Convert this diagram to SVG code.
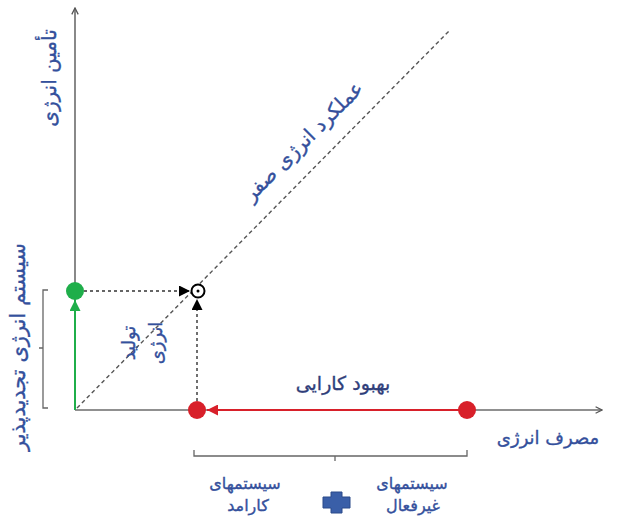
<svg xmlns="http://www.w3.org/2000/svg" width="628" height="524" viewBox="0 0 628 524">
<defs>
<style>
.t{font-family:"DejaVu Sans",sans-serif;fill:#34509c;stroke:#34509c;stroke-width:0.35;text-anchor:middle}
.axis{stroke:#6b6b6b;stroke-width:1.6;fill:none}
.dash{stroke:#333;stroke-width:1.4;stroke-dasharray:3 3;fill:none}
.diag{stroke:#555;stroke-width:1.4;stroke-dasharray:4 3;fill:none}
.br{stroke:#666;stroke-width:1.3;fill:none}
</style>
<marker id="ax" viewBox="0 0 10 10" refX="9" refY="5" markerWidth="8" markerHeight="8" orient="auto" markerUnits="userSpaceOnUse"><path d="M1,1 L9,5 L1,9" fill="none" stroke="#555" stroke-width="1.6"/></marker>
<marker id="bk" viewBox="0 0 10 10" refX="10" refY="5" markerWidth="11" markerHeight="11" orient="auto" markerUnits="userSpaceOnUse"><path d="M0,0 L10,5 L0,10 z" fill="#000"/></marker>
<marker id="gr" viewBox="0 0 10 10" refX="10" refY="5" markerWidth="11" markerHeight="11" orient="auto" markerUnits="userSpaceOnUse"><path d="M0,0 L10,5 L0,10 z" fill="#1fae4a"/></marker>
<marker id="rd" viewBox="0 0 10 10" refX="10" refY="5" markerWidth="11" markerHeight="11" orient="auto" markerUnits="userSpaceOnUse"><path d="M0,0 L10,5 L0,10 z" fill="#d8202a"/></marker>
</defs>
<rect width="628" height="524" fill="#fff"/>
<g id="connectors">
<line class="axis" x1="75" y1="410" x2="75" y2="8" marker-end="url(#ax)"/>
<line class="axis" x1="75" y1="410" x2="602" y2="410" marker-end="url(#ax)"/>
<line class="diag" x1="77" y1="408" x2="450" y2="30"/>
<line x1="75" y1="410" x2="75" y2="300" stroke="#1fae4a" stroke-width="2" marker-end="url(#gr)"/>
<line class="dash" x1="84" y1="291" x2="190" y2="291" marker-end="url(#bk)"/>
<line class="dash" x1="197" y1="401" x2="197" y2="299" marker-end="url(#bk)"/>
<line x1="460" y1="410" x2="207" y2="410" stroke="#d8202a" stroke-width="2" marker-end="url(#rd)"/>
<path class="br" d="M48,290 H43 V408 H48 M43,348 H39"/>
<path class="br" d="M194,450 V456 H467 V450 M335,456 V461"/>
</g>
<g id="green-node"><circle cx="75" cy="291" r="9" fill="#1fae4a"/></g>
<g id="zero-node"><circle cx="198" cy="291" r="6.5" fill="#fff" stroke="#000" stroke-width="2"/><circle cx="198" cy="291" r="1.5" fill="#000"/></g>
<g id="red-node-1"><circle cx="197" cy="410" r="9" fill="#d8202a"/></g>
<g id="red-node-2"><circle cx="467" cy="410" r="9" fill="#d8202a"/></g>
<g id="labels">
<text class="t" transform="translate(56,78) rotate(-90)" style="font-size:20px">تأمین انرژی</text>
<text class="t" transform="translate(25,347) rotate(-90)" style="font-size:21px">سیستم انرژی تجدیدپذیر</text>
<text class="t" transform="translate(135,343) rotate(-90)" style="font-size:18px">تولید</text>
<text class="t" transform="translate(162,343) rotate(-90)" style="font-size:18px">انرژی</text>
<text class="t" transform="translate(308,146) rotate(-45)" style="font-size:20px">عملکرد انرژی صفر</text>
<text class="t" x="343" y="390" style="font-size:19px;fill:#2f3e7a;stroke:#2f3e7a">بهبود کارایی</text>
<text class="t" x="548" y="444" style="font-size:18px">مصرف انرژی</text>
<text class="t" x="245" y="489" style="font-size:16px">سیستمهای</text>
<text class="t" x="248" y="511" style="font-size:16px">کارامد</text>
<text class="t" x="412" y="489" style="font-size:16px">سیستمهای</text>
<text class="t" x="413" y="511" style="font-size:16px">غیرفعال</text>
</g>
<g id="plus"><path d="M331,492 H342 V497 H350 V508 H342 V513 H331 V508 H323 V497 H331 z" fill="#3a5fa8" stroke="#2b4a8a" stroke-width="1"/></g>
</svg>
